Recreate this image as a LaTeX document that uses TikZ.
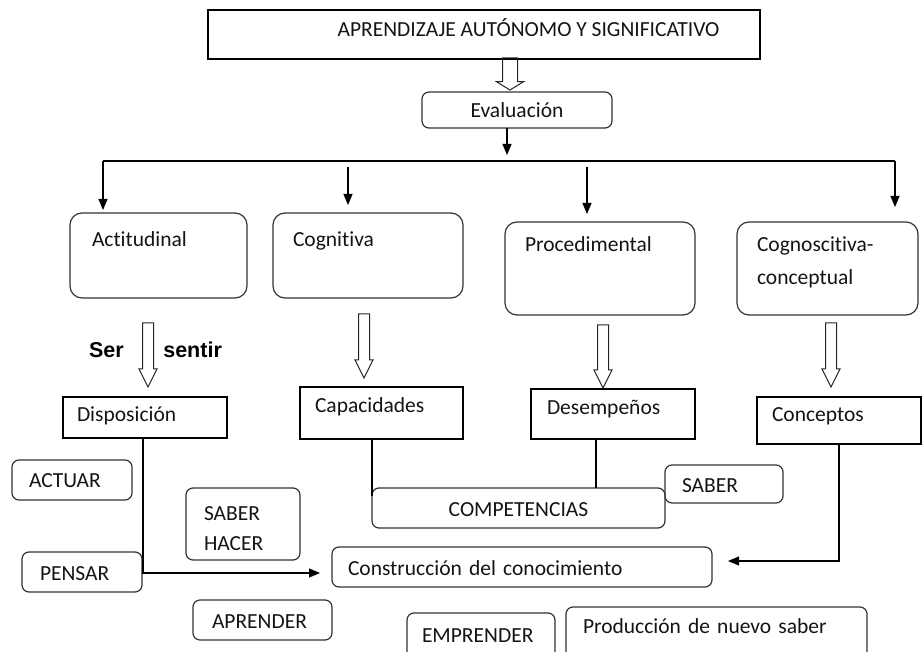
\documentclass[tikz,border=0pt]{standalone}
\usepackage{fontspec}
\setmainfont{Carlito}[Ligatures={NoCommon}]
\setsansfont{Liberation Sans}
\usetikzlibrary{arrows.meta,shapes.arrows,calc}

\tikzset{
  every node/.style={font=\fontsize{21.5}{26}\selectfont, text=black!92, outer sep=0pt},
  rbox/.style={draw=black!80, line width=1.2pt, rounded corners=7pt, anchor=north west, inner ysep=0pt, align=left},
  big/.style={rbox, rounded corners=12pt},
  sbox/.style={draw=black, line width=1.2pt, anchor=north west, inner ysep=0pt, align=left},
  holl/.style={single arrow, draw=black!85, line width=1pt, rotate=-90, anchor=tail,
    inner xsep=0pt, inner ysep=5pt, minimum width=0pt,
    single arrow head extend=3.5pt, single arrow tip angle=53, single arrow head indent=0pt},
  ln/.style={line width=1.2pt},
  arr/.style={ln, -{Triangle[width=9pt,length=11pt]}},
  lab/.style={font=\fontsize{21.5}{26}\selectfont\sffamily\bfseries, text=black}
}

\begin{document}
\begin{tikzpicture}[x=1pt,y=-1pt]
  \useasboundingbox (0,0) rectangle (922,652);

  % top
  \node[sbox, minimum width=552pt, text height=27pt, text depth=22pt] (title) at (208,10)
    {\hspace*{89pt}APRENDIZAJE AUTÓNOMO Y SIGNIFICATIVO};
  \node[holl, minimum height=32pt, inner ysep=7pt, single arrow head extend=6pt,
    single arrow tip angle=117] (h0) at (510,58) {};
  \node[rbox, minimum width=190pt, text height=26pt, text depth=10pt] (eval) at (422,92) {Evaluación};

  % four kinds of evaluation
  \node[big, inner xsep=22pt, text width=133pt, text height=34pt, text depth=51pt] (act) at (70,213) {Actitudinal};
  \node[big, inner xsep=20pt, text width=150pt, text height=34pt, text depth=51pt] (cog) at (273,213) {Cognitiva};
  \node[big, inner xsep=20pt, text width=150pt, text height=30pt, text depth=63pt] (proc) at (505,222) {Procedimental};
  \node[big, inner xsep=20pt, text width=141pt, text height=30pt, text depth=63pt,
    font=\fontsize{21.5}{33}\selectfont] (cogn) at (737,222) {Cognoscitiva-\\conceptual};

  \coordinate (ev) at (507,155);
  \coordinate (bl) at (103,161);
  \coordinate (br) at (895,161);
  \coordinate (bc) at (348,167);
  \coordinate (bp) at (587,167);
  \draw[arr] (eval.south -| ev) -- (ev);
  \draw[ln] (bl) -- (br);
  \draw[arr] (bl) -- ($(bl |- act.north)+(0,-3)$);
  \draw[arr] (br) -- ($(br |- cogn.north)+(0,-15)$);
  \foreach \c/\n in {bc/cog, bp/proc}
    \draw[arr] (\c) -- ($(\c |- \n.north)+(0,-8)$);

  % hollow arrows
  \node[holl, minimum height=64pt] (h1) at (148,323) {};
  \node[holl, minimum height=64pt] (h2) at (364,314) {};
  \node[holl, minimum height=63pt] (h3) at (603,325) {};
  \node[holl, minimum height=64pt] (h4) at (831,323) {};
  \node[lab, anchor=base east] (ser) at (127,358) {Ser};
  \node[lab, anchor=base west] (sentir) at (160,358) {sentir};

  % second row
  \node[sbox, inner xsep=14pt, text width=136pt, text height=25pt, text depth=16pt] (disp) at (63,397) {Disposición};
  \node[sbox, inner xsep=15pt, text width=133pt, text height=26pt, text depth=26pt] (cap) at (300,387) {Capacidades};
  \node[sbox, inner xsep=16pt, text width=132pt, text height=26pt, text depth=24pt] (des) at (531,389) {Desempeños};
  \node[sbox, inner xsep=15pt, text width=134pt, text height=25pt, text depth=22pt] (conc) at (757,397) {Conceptos};

  % bottom
  \node[rbox, inner xsep=17pt, text width=86pt, text height=28pt, text depth=12pt] (actuar) at (12,460) {ACTUAR};
  \node[rbox, inner xsep=18pt, text width=78pt, text height=32pt, text depth=40pt,
    font=\fontsize{21.5}{30}\selectfont] (sabhac) at (186,488) {SABER\\HACER};
  \node[rbox, inner xsep=18pt, text width=84pt, text height=28pt, text depth=12pt] (pensar) at (22,552) {PENSAR};
  \node[rbox, inner xsep=19pt, text width=101pt, text height=28pt, text depth=12pt] (aprender) at (193,600) {APRENDER};
  \node[rbox, minimum width=293pt, text height=29pt, text depth=11pt] (comp) at (372,488) {COMPETENCIAS};
  \node[rbox, inner xsep=17pt, text width=84pt, text height=28pt, text depth=10pt] (saber) at (665,465) {SABER};
  \node[rbox, inner xsep=16pt, text width=348pt, text height=28pt, text depth=12pt] (cons) at (332,547) {Construcción del conocimiento};
  \node[rbox, inner xsep=15pt, text width=118pt, text height=29pt, text depth=18pt] (empr) at (407,613) {EMPRENDER};
  \node[rbox, inner xsep=17pt, text width=267pt, text height=26pt, text depth=27pt] (prod) at (566,607) {Producción de nuevo saber};

  \coordinate (dd) at ($(des.south)+(-17,0)$);
  \draw[arr] ([xshift=-2pt]disp.south) |- ($(cons.west)+(-12,6)$);
  \draw[ln] (cap.south -| comp.west) -- ($(comp.north west)+(0,8)$);
  \draw[ln] (dd) -- (dd |- comp.north);
  \draw[arr] (conc.south) |- ($(cons.east)+(16,-6)$);
\end{tikzpicture}
\end{document}
